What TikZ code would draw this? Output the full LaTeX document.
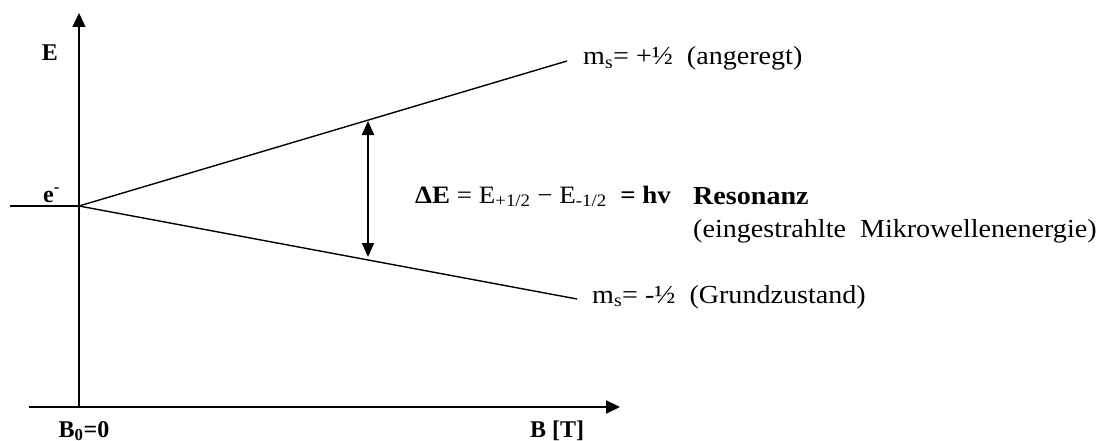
\documentclass[tikz,border=0pt]{standalone}
\usepackage{fontspec}
\setmainfont{Liberation Serif}
\newfontfamily\widefont[FakeStretch=1.08]{Liberation Serif}
\usetikzlibrary{arrows.meta,calc}
\tikzset{
  axis/.style={line width=#1, -{Triangle[length=14pt,width=13pt]}},
  level/.style={line width=1.4pt},
  gap/.style={line width=2pt, {Triangle[length=14pt,width=12pt]}-{Triangle[length=14pt,width=12pt]}},
  lbl/.style={inner sep=0pt, font=\fontsize{24}{28}\selectfont\bfseries},
  txt/.style={inner sep=0pt, anchor=base west, font=\widefont\fontsize{26}{30}\selectfont},
}
\begin{document}
\begin{tikzpicture}[x=1pt,y=-1pt]
  \useasboundingbox (0,0) rectangle (1102,441);
  % axes
  \coordinate (O) at (79,407);
  \coordinate (Etop) at (79,13);
  \coordinate (Xstart) at (29,407);
  \coordinate (Bend) at (620,407);
  \draw[axis=1.4pt] (O) -- (Etop);
  \draw[axis=2.2pt] (Xstart) -- (Bend);
  % zero-field level and Zeeman splitting
  \coordinate (e0) at (79,206);
  \coordinate (eL) at (10,206);
  \coordinate (up) at (567,61);
  \coordinate (down) at (577,299);
  \draw[line width=2.2pt] (eL) -- (e0);
  \draw[level] (e0) -- (up);
  \draw[level] (e0) -- (down);
  % energy gap between the two levels
  \coordinate (gU) at (368,121);
  \coordinate (gD) at (368,257);
  \draw[gap] (gU) -- (gD);
  % labels
  \node[lbl, anchor=base] (lE) at (50,61) {E};
  \node[lbl, anchor=base west] (le) at (43,202) {e\textsuperscript{-}};
  \node[lbl, anchor=base] (lB0) at (84,437) {B\textsubscript{0}=0};
  \node[lbl, anchor=base] (lB) at (557,437) {B [T]};
  \node[txt] (mup) at (583,65) {m\textsubscript{s}= +½~ (angeregt)};
  \node[txt] (mdown) at (592,303) {m\textsubscript{s}= -½~ (Grundzustand)};
  \node[txt, font=\widefont\fontsize{25}{30}\selectfont] (dE) at (415,203)
    {\textbf{ΔE} = E\textsubscript{+1/2} − E\textsubscript{-1/2} ~\textbf{= hv}};
  \node[txt] (res) at (693,204) {\textbf{Resonanz}};
  \node[txt] (mw) at (693,237) {(eingestrahlte~ Mikrowellenenergie)};
\end{tikzpicture}
\end{document}
